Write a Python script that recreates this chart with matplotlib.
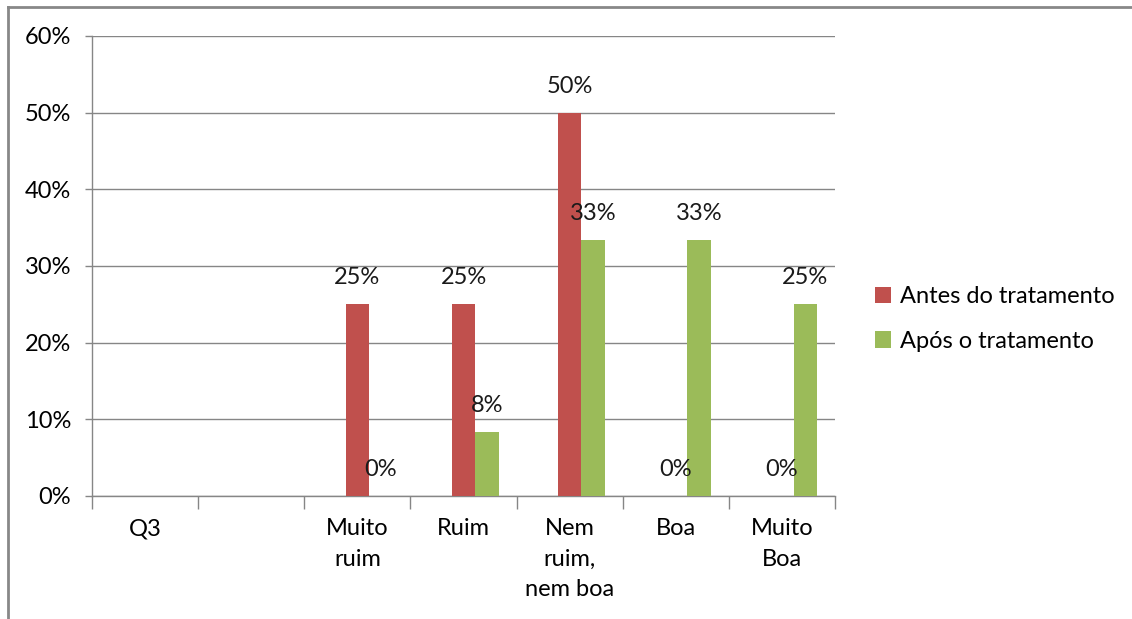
import numpy as np
import matplotlib.pyplot as plt
from matplotlib.lines import Line2D

plt.rcParams['font.family'] = ['Lato', 'DejaVu Sans']

# categories and series (percent)
categories = ['Q3', '', 'Muito\nruim', 'Ruim', 'Nem\nruim,\nnem boa', 'Boa', 'Muito\nBoa']
antes = [None, None, 25, 25, 50, 0, 0]
apos = [None, None, 0, 8.33, 33.33, 33.33, 25]
antes_labels = [None, None, '25%', '25%', '50%', '0%', '0%']
apos_labels = [None, None, '0%', '8%', '33%', '33%', '25%']

red = '#C0504D'
green = '#9BBB59'
axis_gray = '#868686'
fs = 17

fig = plt.figure(figsize=(11.32, 6.19), dpi=100)
ax = fig.add_axes([92 / 1132, 123 / 619, 743 / 1132, 460 / 619])

x = np.arange(len(categories))
w = 0.22

def draw(vals, labels, offset, color, name):
    xs = [xi + offset for xi, v in zip(x, vals) if v is not None]
    ys = [v for v in vals if v is not None]
    ax.bar(xs, ys, width=w, color=color, label=name, zorder=3)
    for xi, v, t in zip(x, vals, labels):
        if v is None:
            continue
        ax.annotate(t, (xi + offset, v), xytext=(0, 16), textcoords='offset pixels',
                    ha='center', va='bottom', fontsize=fs, color='#1a1a1a', zorder=4)

draw(antes, antes_labels, 0.0, red, 'Antes do tratamento')
draw(apos, apos_labels, w, green, 'Após o tratamento')

ax.set_xlim(-0.5, len(categories) - 0.5)
ax.set_ylim(0, 60)
ax.set_yticks(np.arange(0, 61, 10))
ax.set_yticklabels([f'{v}%' for v in range(0, 61, 10)], fontsize=fs)
ax.yaxis.grid(True, color=axis_gray, linewidth=1, zorder=0)
ax.tick_params(axis='y', length=5, width=1, color=axis_gray, pad=10)

ax.set_xticks(x)
ax.set_xticklabels(categories, fontsize=fs, linespacing=1.55)
ax.set_xticks(np.arange(-0.5, len(categories)), minor=True)
ax.tick_params(axis='x', which='major', length=0, pad=16)
ax.tick_params(axis='x', which='minor', length=9, width=1, color=axis_gray)

for side in ['top', 'right']:
    ax.spines[side].set_visible(False)
for side in ['left', 'bottom']:
    ax.spines[side].set_color(axis_gray)
    ax.spines[side].set_linewidth(1)

ax.legend(loc='center left', bbox_to_anchor=(1.025, 0.385), frameon=False, fontsize=fs,
          handlelength=0.7, handleheight=0.7, handletextpad=0.35, labelspacing=1.0)

# outer chart frame
fig.add_artist(Line2D([8 / 1132, 8 / 1132], [0, 612 / 619], color='#888888', linewidth=2))
fig.add_artist(Line2D([8 / 1132, 1], [612 / 619, 612 / 619], color='#888888', linewidth=2))

fig.savefig('out.png', dpi=100, facecolor='white')
